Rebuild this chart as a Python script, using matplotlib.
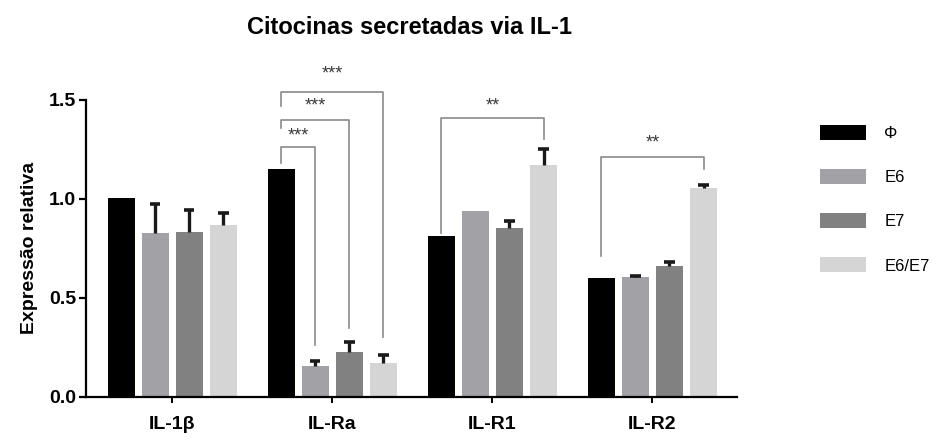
import matplotlib
matplotlib.use("Agg")
import matplotlib.pyplot as plt
import numpy as np
from matplotlib.patches import Patch

plt.rcParams['font.family'] = ['Liberation Sans', 'DejaVu Sans']

categories = ["IL-1β", "IL-Ra", "IL-R1", "IL-R2"]
series = ["Φ", "E6", "E7", "E6/E7"]
colors = ["#000000", "#a2a1a6", "#818181", "#d5d5d5"]

values = {
    "Φ":     [1.005, 1.15, 0.81, 0.60],
    "E6":    [0.83, 0.157, 0.94, 0.605],
    "E7":    [0.833, 0.227, 0.855, 0.66],
    "E6/E7": [0.87, 0.17, 1.17, 1.055],
}
errors = {
    "Φ":     [0.0, 0.0, 0.0, 0.0],
    "E6":    [0.145, 0.025, 0.0, 0.006],
    "E7":    [0.11, 0.05, 0.035, 0.02],
    "E6/E7": [0.06, 0.04, 0.08, 0.015],
}

# significance brackets: (group, series_from, series_to, y_left, y_bar, y_right, label, y_text)
brackets = [
    (1, 0, 1, 1.18, 1.26, 0.26, "***", 1.32),
    (1, 0, 2, 1.36, 1.40, 0.35, "***", 1.47),
    (1, 0, 3, 1.47, 1.54, 0.30, "***", 1.63),
    (2, 0, 3, 0.83, 1.41, 1.30, "**", 1.47),
    (3, 0, 3, 0.71, 1.21, 1.15, "**", 1.28),
]

fig = plt.figure(figsize=(9.44, 4.4), dpi=100)
ax = fig.add_axes([0.091, 0.098, 0.69, 0.675])

x = np.arange(len(categories))
width = 0.17
step = 0.213
offsets = (np.arange(len(series)) - 1.5) * step
cap = 0.032

for i, s in enumerate(series):
    pos = x + offsets[i]
    vals = np.array(values[s])
    ax.bar(pos, vals, width=width, color=colors[i], zorder=2)
    errs = np.array(errors[s])
    mask = errs > 0
    if mask.any():
        tops = vals[mask] + errs[mask]
        ax.vlines(pos[mask], vals[mask], tops, colors='#1a1a1a', lw=2.4, zorder=3)
        ax.hlines(tops, pos[mask] - cap, pos[mask] + cap, colors='#1a1a1a', lw=2.6, zorder=3)

for g, a, b, yl, yb, yr, lab, yt in brackets:
    xa = x[g] + offsets[a]
    xb = x[g] + offsets[b]
    ax.plot([xa, xa, xb, xb], [yl, yb, yb, yr], color='#8a8a8a', lw=1.2, clip_on=False, zorder=1)
    ax.text((xa + xb) / 2, yt, lab, ha='center', va='center', fontsize=13, color='#3a3a3a',
            clip_on=False)

ax.set_xlim(-0.54, 3.53)
ax.set_ylim(0, 1.5)
ax.set_yticks([0, 0.5, 1.0, 1.5])
ax.set_yticklabels(["0.0", "0.5", "1.0", "1.5"])
ax.set_xticks(x)
ax.set_xticklabels(categories)
for lbl in ax.get_xticklabels() + ax.get_yticklabels():
    lbl.set_fontweight('bold')
    lbl.set_fontsize(14)
ax.tick_params(axis='y', length=5, width=1.6, pad=2)
ax.tick_params(axis='x', length=4, width=1.4, pad=10)
for sp in ['top', 'right']:
    ax.spines[sp].set_visible(False)
for sp in ['left', 'bottom']:
    ax.spines[sp].set_linewidth(1.6)
ax.set_ylabel("Expressão relativa", fontsize=14, fontweight='bold', labelpad=8)

fig.text(0.434, 0.937, "Citocinas secretadas via IL-1", ha='center', va='center',
         fontsize=17, fontweight='bold')

handles = [Patch(facecolor=c, edgecolor='none') for c in colors]
fig.legend(handles, series, loc='upper left', bbox_to_anchor=(0.853, 0.75), frameon=False,
           handlelength=2.75, handleheight=1.0, labelspacing=1.68, handletextpad=1.1, fontsize=12)

fig.savefig("out.png", dpi=100)
